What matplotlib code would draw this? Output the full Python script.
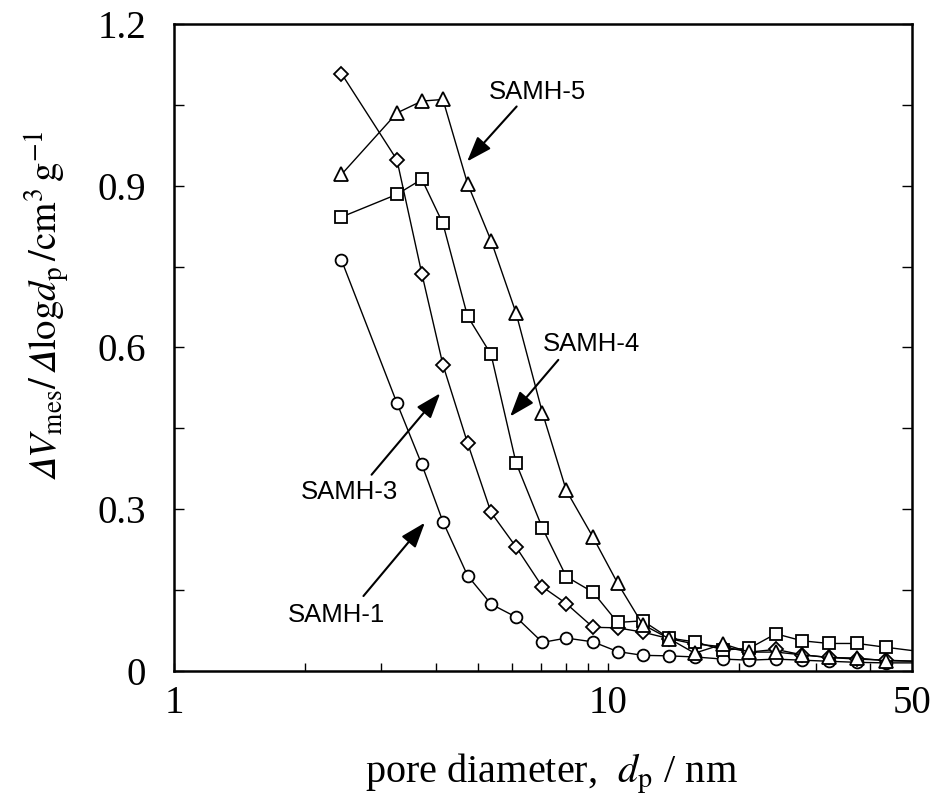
import numpy as np
import matplotlib
matplotlib.use("Agg")
from matplotlib import pyplot as plt

plt.rcParams['font.family'] = 'serif'
plt.rcParams['font.serif'] = ['Liberation Serif', 'DejaVu Serif']
plt.rcParams['mathtext.fontset'] = 'stix'

# pore diameter (nm), shared by all four samples
dp = [2.43, 3.26, 3.72, 4.16, 4.74, 5.37, 6.13, 7.05, 8.0, 9.22, 10.5,
      12.0, 13.8, 15.8, 18.4, 21.1, 24.3, 27.9, 32.2, 37.4, 43.5, 51.0]

samh1 = [0.762, 0.497, 0.383, 0.277, 0.177, 0.124, 0.100, 0.053, 0.061, 0.054, 0.036,
         0.029, 0.028, 0.026, 0.022, 0.020, 0.022, 0.020, 0.018, 0.016, 0.015, 0.015]
samh3 = [1.108, 0.948, 0.737, 0.568, 0.423, 0.294, 0.230, 0.156, 0.125, 0.081, 0.080,
         0.072, 0.060, 0.050, 0.045, 0.035, 0.040, 0.030, 0.025, 0.022, 0.020, 0.018]
samh4 = [0.842, 0.884, 0.912, 0.830, 0.658, 0.587, 0.386, 0.265, 0.175, 0.146, 0.090,
         0.093, 0.061, 0.054, 0.039, 0.042, 0.069, 0.056, 0.051, 0.051, 0.044, 0.037]
samh5 = [0.921, 1.035, 1.057, 1.060, 0.904, 0.798, 0.664, 0.479, 0.335, 0.248, 0.163,
         0.086, 0.060, 0.033, 0.050, 0.035, 0.035, 0.030, 0.025, 0.024, 0.019, 0.018]


def plot_psd(fname='out.png'):

    fig = plt.figure(figsize=(9.32, 8.05), dpi=100)
    ax = fig.add_axes([0.1867, 0.1665, 0.7918, 0.8037])

    style = dict(color='k', lw=1.0, mfc='white', mec='k', mew=1.3,
                 markevery=slice(0, -1))
    ax.plot(dp, samh1, marker='o', ms=8.5, **style)
    ax.plot(dp, samh3, marker='D', ms=7.5, **style)
    ax.plot(dp, samh4, marker='s', ms=8.5, **style)
    ax.plot(dp, samh5, marker='^', ms=10.5, **style)

    # axes formatting
    ax.set_xscale('log')
    ax.set_xlim(1, 50)
    ax.set_ylim(0, 1.2)
    ax.set_xticks([1, 10, 50])
    ax.set_xticklabels(['1', '10', '50'])
    ax.set_xticks([2, 3, 4, 5, 6, 7, 8, 9, 20, 30, 40], minor=True)
    ax.xaxis.set_minor_formatter(matplotlib.ticker.NullFormatter())
    ax.set_yticks([0, 0.3, 0.6, 0.9, 1.2])
    ax.set_yticklabels(['0', '0.3', '0.6', '0.9', '1.2'])
    ax.set_yticks([0.15, 0.45, 0.75, 1.05], minor=True)

    fs = 28
    ax.tick_params(axis='x', which='both', direction='in', top=False,
                   length=6, width=1.0, labelsize=fs, pad=10)
    ax.tick_params(axis='y', which='both', direction='in', right=True,
                   length=7, width=1.0, labelsize=fs, pad=20)
    # 50 label sits at the frame edge, no tick mark
    ax.xaxis.get_major_ticks()[2].tick1line.set_visible(False)
    for s in ax.spines.values():
        s.set_linewidth(1.8)

    ax.set_xlabel(r'pore diameter,  $\mathit{d}_{\mathrm{p}}$ / nm', fontsize=29)
    ax.xaxis.set_label_coords(0.512, -0.125)
    # italic capital delta (U+1D6E5)
    ax.set_ylabel('$\U0001D6E5\\mathit{V}_{\\mathrm{mes}}/\\,\U0001D6E5\\mathrm{log}\\mathit{d}_{\\mathrm{p}}'
                  '\\,/\\mathrm{cm}^{3}\\,\\mathrm{g}^{-1}$', fontsize=28)
    ax.yaxis.set_label_coords(-0.14, 0.565)

    # sample labels with arrows
    arr = dict(arrowstyle='-|>,head_length=0.7,head_width=0.25', color='k', lw=1.5,
               mutation_scale=22, shrinkA=0, shrinkB=0)
    tfont = dict(family='Liberation Sans', fontsize=18.5, ha='center', va='center')
    ax.annotate('', xy=(4.73, 0.945), xytext=(6.15, 1.047), arrowprops=arr)
    ax.text(6.85, 1.074, 'SAMH-5', **tfont)
    ax.annotate('', xy=(5.94, 0.472), xytext=(7.67, 0.577), arrowprops=arr)
    ax.text(9.12, 0.607, 'SAMH-4', **tfont)
    ax.annotate('', xy=(4.10, 0.515), xytext=(2.85, 0.364), arrowprops=arr)
    ax.text(2.54, 0.332, 'SAMH-3', **tfont)
    ax.annotate('', xy=(3.78, 0.275), xytext=(2.73, 0.139), arrowprops=arr)
    ax.text(2.37, 0.104, 'SAMH-1', **tfont)

    if fname is not None:
        plt.savefig(fname, dpi=100)


plot_psd('out.png')
